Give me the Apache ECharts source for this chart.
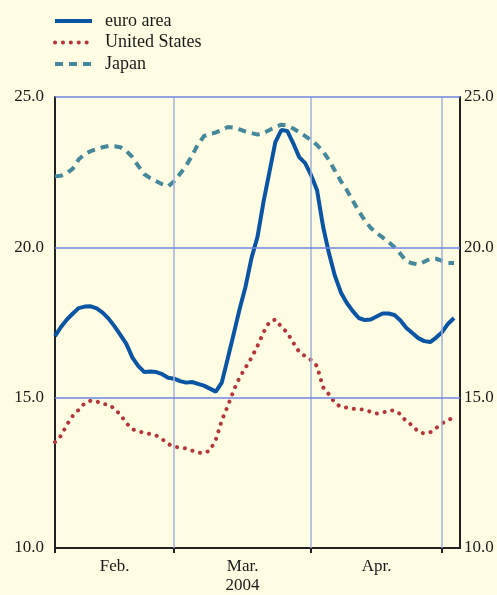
<!DOCTYPE html>
<html>
<head>
<meta charset="utf-8">
<script src="https://cdn.jsdelivr.net/npm/echarts@6/dist/echarts.min.js"></script>
<style>
html,body{margin:0;padding:0;background:#fefce2;}
#c{width:497px;height:595px;}
</style>
</head>
<body>
<div id="c"></div>
<script>
// business-day index (0 = first trading day of Feb. 2004)
const euroArea = [17.05,17.35,17.6,17.8,17.98,18.03,18.04,17.97,17.83,17.63,
  17.37,17.08,16.78,16.33,16.05,15.85,15.87,15.85,15.78,15.66,
  15.63,15.55,15.5,15.52,15.46,15.4,15.3,15.2,15.5,16.3,
  17.12,17.95,18.7,19.65,20.35,21.5,22.5,23.5,23.9,23.87,
  23.46,23.0,22.8,22.4,21.9,20.7,19.8,19.05,18.5,18.15,
  17.88,17.65,17.58,17.6,17.7,17.8,17.8,17.75,17.57,17.32,
  17.15,16.98,16.88,16.85,17.0,17.18,17.46,17.65];
const unitedStates = [13.52,13.73,14.1,14.4,14.6,14.82,14.9,14.88,14.78,14.78,
  14.63,14.43,14.15,13.95,13.88,13.83,13.79,13.74,13.62,13.46,
  13.37,13.34,13.31,13.24,13.17,13.16,13.24,13.6,14.24,14.72,
  15.24,15.68,16.0,16.33,16.72,17.17,17.52,17.6,17.36,17.16,
  16.83,16.52,16.38,16.25,16.05,15.35,15.11,14.82,14.69,14.67,
  14.63,14.62,14.6,14.53,14.47,14.5,14.57,14.58,14.45,14.2,
  14.08,13.86,13.81,13.85,13.99,14.15,14.25,14.35];
const japan = [22.36,22.38,22.47,22.62,22.93,23.1,23.2,23.27,23.33,23.37,
  23.36,23.33,23.2,23.0,22.7,22.43,22.3,22.2,22.1,22.03,
  22.2,22.45,22.7,23.05,23.42,23.7,23.77,23.82,23.9,24.0,
  23.98,23.92,23.85,23.8,23.75,23.8,23.9,24.0,24.08,24.05,
  23.95,23.83,23.7,23.57,23.4,23.2,22.9,22.55,22.2,21.9,
  21.55,21.2,20.9,20.65,20.48,20.33,20.18,20.0,19.78,19.54,
  19.47,19.43,19.52,19.62,19.62,19.55,19.48,19.48];
const monthStarts = [0, 20, 43, 65];      // Feb, Mar, Apr, May
const monthLabelPos = [10, 31.5, 54];
const monthLabels = ['Feb.', 'Mar.\n2004', 'Apr.'];
const gridValues = [15, 20, 25];

const pairs = arr => arr.map((v, i) => [i, v]);
const font = 'Liberation Serif';

const chart = echarts.init(document.getElementById('c'));
chart.setOption({
  backgroundColor: '#fefce2',
  animation: false,
  legend: {
    orient: 'vertical', left: 53, top: 12, padding: 0,
    itemWidth: 37, itemHeight: 14, itemGap: 3.5,
    data: ['euro area', 'United States', 'Japan'],
    itemStyle: { color: 'transparent', borderWidth: 0, opacity: 0 },
    lineStyle: { width: 4 },
    textStyle: { fontFamily: font, fontSize: 18, color: '#1a1a1a', padding: [0,0,0,8] }
  },
  grid: { left: 55, right: 37, top: 97, bottom: 46 },
  xAxis: {
    type: 'value', min: 0, max: 68,
    axisLine: { show: true, lineStyle: { color: '#222', width: 2 } },
    axisTick: { show: true, customValues: monthStarts, length: 5, lineStyle: { color: '#222', width: 2 } },
    axisLabel: {
      customValues: monthLabelPos,
      formatter: v => monthLabels[monthLabelPos.indexOf(v)] || '',
      fontFamily: font, fontSize: 17, color: '#1a1a1a', margin: 9, lineHeight: 19
    },
    splitLine: { show: false }
  },
  yAxis: [{
    type: 'value', min: 10, max: 25, interval: 5, position: 'left',
    axisLine: { show: true, lineStyle: { color: '#222', width: 2 } },
    axisTick: { show: false },
    axisLabel: { formatter: v => v.toFixed(1), fontFamily: font, fontSize: 17, color: '#1a1a1a', margin: 11 },
    splitLine: { show: false }
  }, {
    type: 'value', min: 10, max: 25, interval: 5, position: 'right',
    axisLine: { show: true, lineStyle: { color: '#222', width: 2 } },
    axisTick: { show: false },
    axisLabel: { formatter: v => v.toFixed(1), fontFamily: font, fontSize: 17, color: '#1a1a1a', margin: 4 },
    splitLine: { show: false }
  }],
  series: [{
    type: 'line', name: 'vgrid', data: [], z: 1, silent: true,
    markLine: {
      silent: true, symbol: 'none', label: { show: false }, animation: false,
      lineStyle: { color: '#a3b0da', width: 1.5, type: 'solid', opacity: 1 },
      data: monthStarts.slice(1).map(v => ({ xAxis: v }))
    }
  }, {
    type: 'line', name: 'hgrid', data: [], z: 1, silent: true,
    markLine: {
      silent: true, symbol: 'none', label: { show: false }, animation: false,
      lineStyle: { color: '#7086e2', width: 1.5, type: 'solid', opacity: 1 },
      emphasis: { disabled: true },
      data: gridValues.map(v => ({ yAxis: v }))
    }
  }, {
    type: 'line', name: 'Japan', data: pairs(japan), symbol: 'none', z: 3,
    lineStyle: { color: '#46889b', width: 4, type: [8, 6] },
    itemStyle: { color: '#46889b' }
  }, {
    type: 'line', name: 'United States', data: pairs(unitedStates), symbol: 'none', z: 3,
    lineStyle: { color: '#b2373a', width: 4, type: [0.1, 7.8], cap: 'round' },
    itemStyle: { color: '#b2373a' }
  }, {
    type: 'line', name: 'euro area', data: pairs(euroArea), symbol: 'none', z: 4,
    lineStyle: { color: '#0a55a3', width: 4 },
    itemStyle: { color: '#0a55a3' }
  }]
});
</script>
</body>
</html>
